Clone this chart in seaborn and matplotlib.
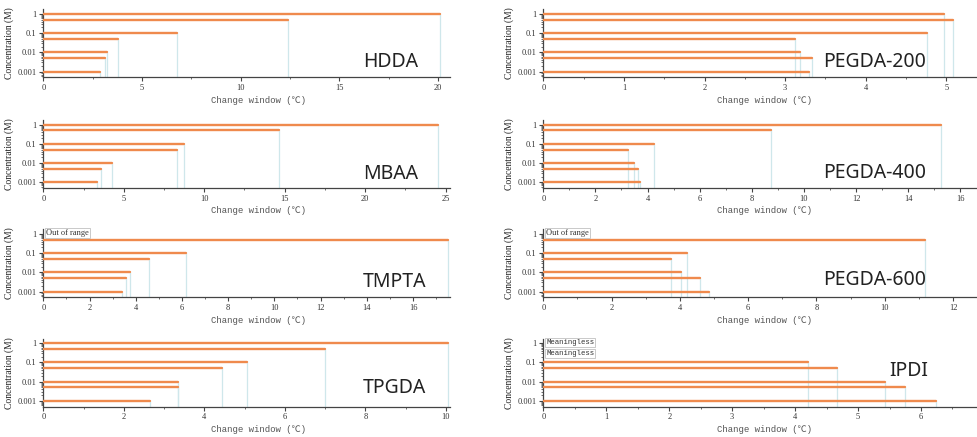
import numpy as np
import pandas as pd
import matplotlib
matplotlib.use("Agg")
import matplotlib.pyplot as plt
import seaborn as sns
from matplotlib.ticker import MultipleLocator, LogLocator, NullFormatter, FixedLocator, FixedFormatter

sns.set_theme(style="ticks")
plt.rcParams["font.family"] = ["Liberation Serif", "DejaVu Sans"]

# ---------------- data ----------------
concentrations = [1, 0.5, 0.1, 0.05, 0.01, 0.005, 0.001]
ytick_values = [1, 0.1, 0.01, 0.001]
ytick_labels = ["1", "0.1", "0.01", "0.001"]

hdda = [20.07, 12.39, 6.77, 3.79, 3.21, 3.13, 2.86]
mbaa = [24.55, 14.64, 8.72, 8.32, 4.24, 3.58, 3.31]
tmpta = [None, 17.5, 6.16, 4.59, 3.76, 3.60, 3.39]
tpgda = [10.06, 6.99, 5.07, 4.43, 3.34, 3.34, 2.66]
pegda200 = [4.975, 5.08, 4.76, 3.12, 3.19, 3.33, 3.30]
pegda400 = [15.26, 8.73, 4.25, 3.24, 3.48, 3.62, 3.70]
pegda600 = [None, 11.18, 4.21, 3.75, 4.03, 4.60, 4.84]
ipdi = [None, None, 4.21, 4.67, 5.43, 5.74, 6.24]

names = ["HDDA", "PEGDA-200", "MBAA", "PEGDA-400", "TMPTA", "PEGDA-600", "TPGDA", "IPDI"]
series = [hdda, pegda200, mbaa, pegda400, tmpta, pegda600, tpgda, ipdi]
x_max = [20.6, 5.38, 25.27, 16.64, 17.6, 12.7, 10.1, 6.89]
x_step = [5, 1, 5, 2, 2, 2, 2, 1]
notes = {"TMPTA": ["Out of range"], "PEGDA-600": ["Out of range"],
         "IPDI": ["Meaningless", "Meaningless"]}

xlabel_text = "Change window (\u2103)"
ylabel_text = "Concentration (M)"

# ---------------- layout ----------------
W, H = 977, 437
ORANGE = "#ef8a4d"
CYAN = "#cfe7eb"
YBOT, YTOP = 5.1e-4, 1.71
row_tops = [9.5, 120.2, 229.5, 338.8]
ax_h = 67.7
col_x = [(43.3, 450.0), (543.3, 977.0)]
label_pos = {
    "HDDA": (0.786, 0.23), "PEGDA-200": (0.645, 0.22),
    "MBAA": (0.786, 0.21), "PEGDA-400": (0.645, 0.22),
    "TMPTA": (0.785, 0.23), "PEGDA-600": (0.645, 0.25),
    "TPGDA": (0.786, 0.27), "IPDI": (0.797, 0.53),
}

fig = plt.figure(figsize=(W / 100, H / 100), dpi=100)

for i, (name, vals) in enumerate(zip(names, series)):
    r, c = divmod(i, 2)
    x0, x1 = col_x[c]
    top = row_tops[r]
    ax = fig.add_axes([x0 / W, 1 - (top + ax_h) / H, (x1 - x0) / W, ax_h / H])

    df = pd.DataFrame({"conc": concentrations, "window": vals}).dropna()
    n = len(df)
    long = pd.DataFrame({
        "seg": np.repeat(np.arange(n), 2),
        "x": np.column_stack([np.zeros(n), df["window"].to_numpy(float)]).ravel(),
        "y": np.repeat(df["conc"].to_numpy(float), 2),
    })
    ax.set_yscale("log")
    ax.vlines(df["window"], YBOT, df["conc"], color=CYAN, lw=0.9, zorder=1)
    sns.lineplot(data=long, x="x", y="y", units="seg", estimator=None, sort=False,
                 color=ORANGE, lw=1.7, ax=ax, legend=False, zorder=3)

    ax.set_xlim(0, x_max[i])
    ax.set_ylim(YBOT, YTOP)
    ax.yaxis.set_major_locator(FixedLocator(ytick_values))
    ax.yaxis.set_major_formatter(FixedFormatter(ytick_labels))
    ax.yaxis.set_minor_locator(LogLocator(base=10, subs=np.arange(2, 10)))
    ax.yaxis.set_minor_formatter(NullFormatter())
    ax.xaxis.set_major_locator(MultipleLocator(x_step[i]))
    ax.xaxis.set_minor_locator(MultipleLocator(x_step[i] / 2))
    ax.xaxis.set_major_formatter(matplotlib.ticker.FuncFormatter(lambda v, p: f"{v:g}"))

    ax.tick_params(axis="both", which="major", direction="out", length=3, width=0.8,
                   color="#444444", labelsize=6, labelcolor="#333333", pad=2)
    ax.tick_params(axis="both", which="minor", direction="out", length=1.5, width=0.6,
                   color="#555555")
    for s in ["top", "right"]:
        ax.spines[s].set_visible(False)
    for s in ["left", "bottom"]:
        ax.spines[s].set_color("#444444")
        ax.spines[s].set_linewidth(0.9)

    ax.set_xlabel(xlabel_text, family=["Liberation Mono", "Noto Sans CJK SC"],
                  fontsize=6.5, color="#555555")
    ax.set_ylabel(ylabel_text, fontsize=6.9, color="#222222")
    w_px = x1 - x0
    ax.xaxis.set_label_coords(0.53 if c == 0 else 0.51, -18.5 / ax_h)
    ax.yaxis.set_label_coords(-29 / w_px, 0.5)

    lx, ly = label_pos[name]
    ax.text(lx, ly, name, transform=ax.transAxes, fontsize=14,
            family=["Noto Sans", "DejaVu Sans"], color="#222222", va="center")

    for k, note in enumerate(notes.get(name, [])):
        if note == "Meaningless":
            fam, fs = ["Liberation Mono", "DejaVu Sans"], 5.3
        else:
            fam, fs = ["Liberation Serif"], 6.0
        ax.annotate(note, xy=(0, 1), xycoords="data", xytext=(2, 0.8 - k * 8.3),
                    textcoords="offset points", fontsize=fs, family=fam,
                    color="#333333", va="center", ha="left",
                    bbox=dict(boxstyle="square,pad=0.12", fc="white", ec="#c0c0c0", lw=0.6),
                    zorder=5)

fig.savefig("out.png", dpi=100)
